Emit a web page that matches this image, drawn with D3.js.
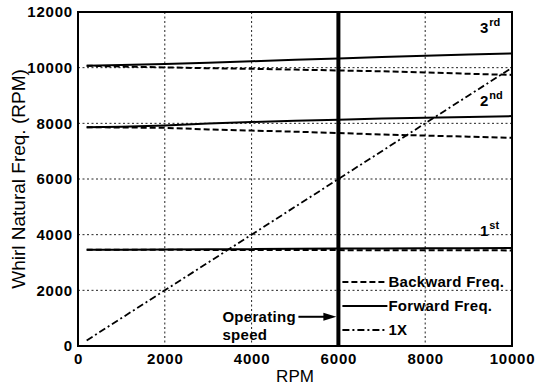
<!DOCTYPE html>
<html>
<head>
<meta charset="utf-8">
<script src="https://cdn.jsdelivr.net/npm/d3@7"></script>
<style>
  html, body { margin: 0; padding: 0; background: #fff; }
  svg { display: block; font-family: "Liberation Sans", Arial, sans-serif; }
</style>
</head>
<body>
<svg id="chart" width="544" height="386"></svg>
<script>
// Rotor speed samples (RPM) at which the whirl frequencies were evaluated
const speedRpm = [200, 1000, 2000, 3000, 4000, 5000, 6000, 7000, 8000, 9000, 10000];

// Forward / backward whirl natural frequencies (RPM) per mode
const mode1Forward  = [3460, 3462, 3466, 3472, 3480, 3490, 3500, 3505, 3510, 3515, 3520];
const mode1Backward = [3460, 3458, 3455, 3452, 3450, 3447, 3445, 3442, 3440, 3438, 3435];
const mode2Forward  = [7860, 7880, 7920, 7990, 8050, 8090, 8130, 8170, 8200, 8230, 8260];
const mode2Backward = [7860, 7850, 7840, 7780, 7740, 7700, 7650, 7600, 7560, 7520, 7480];
const mode3Forward  = [10070, 10100, 10130, 10180, 10230, 10280, 10330, 10380, 10430, 10470, 10510];
const mode3Backward = [10070, 10040, 10010, 9980, 9960, 9930, 9900, 9870, 9830, 9780, 9740];

// Synchronous excitation line (1X)
const oneXRpm  = [200, 10000];
const oneXFreq = [200, 10000];

const operatingSpeed = 6000;
const xTicks = [0, 2000, 4000, 6000, 8000, 10000];
const yTicks = [0, 2000, 4000, 6000, 8000, 10000, 12000];
const modeLabels = [
  { base: "1", sup: "st", at: 3950 },
  { base: "2", sup: "nd", at: 8640 },
  { base: "3", sup: "rd", at: 11240 }
];
const legendItems = [
  { label: "Backward Freq.", kind: "backward" },
  { label: "Forward Freq.",  kind: "forward" },
  { label: "1X",             kind: "onex" }
];

const W = 544, H = 386;
const margin = { top: 12, right: 32, bottom: 40, left: 78 };
const innerW = W - margin.left - margin.right;
const innerH = H - margin.top - margin.bottom;

const svg = d3.select("#chart");
const g = svg.append("g").attr("transform", `translate(${margin.left},${margin.top})`);

const x = d3.scaleLinear().domain([0, 10000]).range([0, innerW]);
const y = d3.scaleLinear().domain([0, 12000]).range([innerH, 0]);

const styles = {
  forward:  { dash: null,      width: 2 },
  backward: { dash: "6,3",     width: 2 },
  onex:     { dash: "7,3,2,3", width: 1.8 }
};

// Dotted grid
g.append("g")
  .selectAll("line")
  .data(xTicks.filter(t => t > 0 && t < 10000))
  .join("line")
  .attr("x1", d => x(d)).attr("x2", d => x(d))
  .attr("y1", 0).attr("y2", innerH)
  .attr("stroke", "#222").attr("stroke-width", 1).attr("stroke-dasharray", "2,2.5");
g.append("g")
  .selectAll("line")
  .data(yTicks.filter(t => t > 0 && t < 12000))
  .join("line")
  .attr("x1", 0).attr("x2", innerW)
  .attr("y1", d => y(d)).attr("y2", d => y(d))
  .attr("stroke", "#222").attr("stroke-width", 1).attr("stroke-dasharray", "2,2.5");

// Axes
const xAxis = g.append("g")
  .attr("transform", `translate(0,${innerH})`)
  .call(d3.axisBottom(x).tickValues(xTicks).tickSize(0).tickPadding(7).tickFormat(d3.format("d")));
const yAxis = g.append("g")
  .call(d3.axisLeft(y).tickValues(yTicks).tickSize(0).tickPadding(5).tickFormat(d3.format("d")));
[xAxis, yAxis].forEach(a => {
  a.select(".domain").remove();
  a.selectAll("text")
    .attr("fill", "#000")
    .style("font-size", "15px")
    .style("font-weight", "bold")
    .style("letter-spacing", "0.8px")
    .style("font-family", "'Liberation Sans', Arial, sans-serif");
});

// Curves
const line = d3.line().x(d => x(d[0])).y(d => y(d[1]));
const curves = [
  { vals: mode1Backward, kind: "backward" },
  { vals: mode2Backward, kind: "backward" },
  { vals: mode3Backward, kind: "backward" },
  { vals: mode1Forward,  kind: "forward" },
  { vals: mode2Forward,  kind: "forward" },
  { vals: mode3Forward,  kind: "forward" }
];
curves.forEach(c => {
  g.append("path")
    .datum(speedRpm.map((s, i) => [s, c.vals[i]]))
    .attr("d", line)
    .attr("fill", "none")
    .attr("stroke", "#000")
    .attr("stroke-width", styles[c.kind].width)
    .attr("stroke-dasharray", styles[c.kind].dash);
});
g.append("path")
  .datum(oneXRpm.map((s, i) => [s, oneXFreq[i]]))
  .attr("d", line)
  .attr("fill", "none")
  .attr("stroke", "#000")
  .attr("stroke-width", styles.onex.width)
  .attr("stroke-dasharray", styles.onex.dash);

// Operating speed marker
g.append("line")
  .attr("x1", x(operatingSpeed)).attr("x2", x(operatingSpeed))
  .attr("y1", 0).attr("y2", innerH)
  .attr("stroke", "#000").attr("stroke-width", 4);

// Frame
g.append("rect")
  .attr("x", 0).attr("y", 0).attr("width", innerW).attr("height", innerH)
  .attr("fill", "none").attr("stroke", "#000").attr("stroke-width", 2);

// Mode labels
modeLabels.forEach(m => {
  const t = g.append("text")
    .attr("x", innerW - 32)
    .attr("y", y(m.at))
    .attr("font-weight", "bold")
    .attr("font-size", 15)
    .attr("fill", "#000");
  t.append("tspan").text(m.base);
  t.append("tspan").text(m.sup).attr("font-size", 11).attr("dy", -7).attr("dx", 1);
});

// Legend
const legend = g.append("g").attr("transform", `translate(${x(operatingSpeed) + 4},${y(2300)})`);
legendItems.forEach((item, i) => {
  const row = legend.append("g").attr("transform", `translate(0,${i * 24})`);
  row.append("line")
    .attr("x1", 0).attr("x2", 45).attr("y1", 0).attr("y2", 0)
    .attr("stroke", "#000")
    .attr("stroke-width", styles[item.kind].width)
    .attr("stroke-dasharray", styles[item.kind].dash);
  row.append("text")
    .attr("x", 46).attr("y", 5)
    .attr("font-weight", "bold")
    .attr("font-size", 15)
    .attr("letter-spacing", "0.3px")
    .attr("fill", "#000")
    .text(item.label);
});

// Operating speed annotation
const arrowY = y(1050);
const annot = g.append("text")
  .attr("x", x(operatingSpeed) - 116)
  .attr("y", arrowY + 5)
  .attr("font-weight", "bold")
  .attr("font-size", 15)
  .attr("letter-spacing", "0.3px")
  .attr("fill", "#000");
annot.append("tspan").text("Operating");
annot.append("tspan").attr("x", x(operatingSpeed) - 116).attr("dy", 18).text("speed");
g.append("line")
  .attr("x1", x(operatingSpeed) - 40).attr("x2", x(operatingSpeed) - 12)
  .attr("y1", arrowY).attr("y2", arrowY)
  .attr("stroke", "#000").attr("stroke-width", 2);
g.append("path")
  .attr("d", d3.line()([
    [x(operatingSpeed) - 2, arrowY],
    [x(operatingSpeed) - 15, arrowY - 4],
    [x(operatingSpeed) - 15, arrowY + 4]
  ]) + "Z")
  .attr("fill", "#000");

// Axis titles
svg.append("text")
  .attr("x", margin.left + x(5000))
  .attr("y", 382)
  .attr("text-anchor", "middle")
  .attr("font-size", 17)
  .attr("fill", "#000")
  .text("RPM");
svg.append("text")
  .attr("transform", `translate(25,${margin.top + innerH / 2}) rotate(-90)`)
  .attr("text-anchor", "middle")
  .attr("font-size", 19)
  .attr("fill", "#000")
  .text("Whirl Natural Freq. (RPM)");
</script>
</body>
</html>
